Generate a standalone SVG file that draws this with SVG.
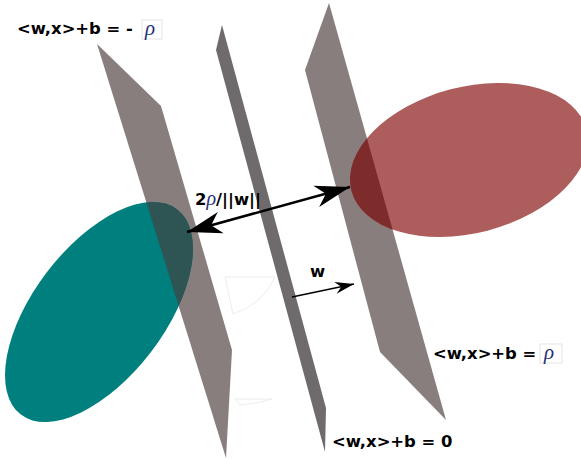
<svg xmlns="http://www.w3.org/2000/svg" width="581" height="460" viewBox="0 0 581 460">
<style>
.plane{fill:#877e7d}
.mid{fill:#6f6a6b}
.lbl{font-family:"DejaVu Sans",Verdana,sans-serif;font-weight:bold;font-size:16.4px;fill:#000}
.rho{font-family:"Liberation Serif","DejaVu Serif",serif;font-style:italic;font-weight:normal;fill:#1f2f78}
.rbox{fill:#fff;stroke:#e4e4e4;stroke-width:1}
.faint{fill:none;stroke:#ececec;stroke-width:1}
.conn{stroke:#000;fill:none}
</style>
<defs>
<marker id="bigHead" markerUnits="userSpaceOnUse" viewBox="-36 -12 38 24" refX="0" refY="0" markerWidth="38" markerHeight="24" orient="auto-start-reverse">
<path d="M0,0 L-35,-11 L-25,0 L-35,11 Z" fill="#000"/>
</marker>
<marker id="smallHead" markerUnits="userSpaceOnUse" viewBox="-20 -7 22 14" refX="0" refY="0" markerWidth="22" markerHeight="14" orient="auto">
<path d="M0,0 L-19,-6 L-13,0 L-19,6 Z" fill="#000"/>
</marker>
<clipPath id="clipLeft"><polygon points="97,44 161,106 232,350 226,458"/></clipPath>
<clipPath id="clipRight"><polygon points="329,3 446,420 380,352 305,70"/></clipPath>
</defs>
<rect width="581" height="460" fill="#fff"/>

<g id="faint-marks">
<path class="faint" d="M225,277 L275,277 Q262,305 233,314 Z"/>
<path class="faint" d="M235,399 L272,399 Q255,404 240,405 Z"/>
</g>

<g id="plane-minus">
<polygon class="plane" points="97,44 161,106 232,350 226,458"/>
</g>
<g id="plane-zero">
<polygon class="mid" points="222,25 326,408 325,452 216,50"/>
</g>
<g id="plane-plus">
<polygon class="plane" points="329,3 446,420 380,352 305,70"/>
</g>

<g id="class-negative">
<ellipse cx="99" cy="312" rx="129" ry="65.6" transform="rotate(-52.7 99 312)" fill="#007f7f"/>
<g clip-path="url(#clipLeft)">
<ellipse cx="99" cy="312" rx="129" ry="65.6" transform="rotate(-52.7 99 312)" fill="#2e5553"/>
</g>
</g>
<g id="class-positive">
<ellipse cx="469" cy="160" rx="121.5" ry="73" transform="rotate(-14.6 469 160)" fill="#ae5d5d"/>
<g clip-path="url(#clipRight)">
<ellipse cx="469" cy="160" rx="121.5" ry="73" transform="rotate(-14.6 469 160)" fill="#7d2b2b"/>
</g>
</g>

<g id="connectors">
<line class="conn" x1="187" y1="232" x2="350" y2="187" stroke-width="2.6" marker-start="url(#bigHead)" marker-end="url(#bigHead)"/>
<line class="conn" x1="292" y1="297" x2="354" y2="284" stroke-width="1.4" marker-end="url(#smallHead)"/>
</g>

<g id="label-minus">
<text class="lbl" x="17" y="34">&lt;w,x&gt;+b = -</text>
<rect class="rbox" x="142" y="20" width="20" height="19"/>
<text class="rho" x="145" y="35" font-size="21">ρ</text>
</g>
<g id="label-plus">
<text class="lbl" x="433" y="359">&lt;w,x&gt;+b =</text>
<rect class="rbox" x="540" y="344" width="22" height="19"/>
<text class="rho" x="544" y="359" font-size="21">ρ</text>
</g>
<g id="label-zero">
<text class="lbl" x="332" y="447">&lt;w,x&gt;+b = 0</text>
</g>
<g id="label-margin">
<text class="lbl" x="195" y="205" font-size="17">2<tspan class="rho" font-size="20">ρ</tspan>/||w||</text>
</g>
<g id="label-w">
<text class="lbl" x="310" y="277" font-size="17">w</text>
</g>
</svg>
